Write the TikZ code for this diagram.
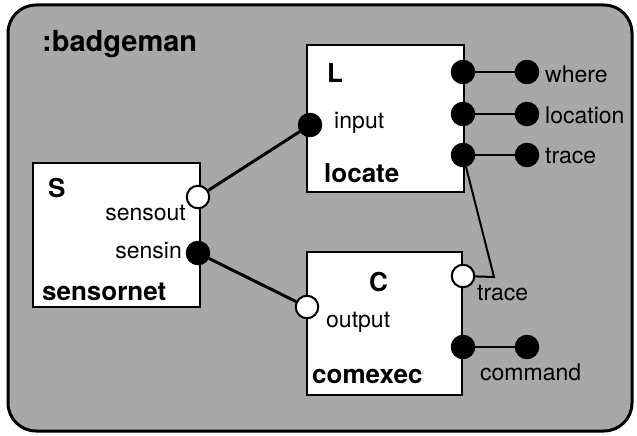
\documentclass[tikz,border=0pt]{standalone}
\usepackage{fontspec}
\setmainfont{TeX Gyre Heros}
\begin{document}
\begin{tikzpicture}[x=1pt,y=-1pt,
  comp/.style={draw=black,fill=white,line width=2.2pt},
  port/.style={circle,draw=black,line width=2pt,minimum size=22.5pt,inner sep=0pt},
  inport/.style={port,fill=black},
  outport/.style={port,fill=white},
  lbl/.style={inner sep=0pt,font=\fontsize{23}{26}\selectfont},
  blbl/.style={inner sep=0pt,font=\fontsize{26}{30}\selectfont\bfseries},
  thick link/.style={line width=3pt},
  thin link/.style={line width=2pt}]
\definecolor{bg}{gray}{0.66}
\useasboundingbox (0,0) rectangle (637,436);
% outer component
\draw[line width=3pt,fill=bg,rounded corners=28pt] (8,5) rectangle (632,431);
\node[anchor=base west,inner sep=0pt,font=\fontsize{29}{32}\selectfont\bfseries] (title) at (42,52) {:badgeman};
% boxes
\draw[comp] (33,163) rectangle (200,307);
\draw[comp] (307,45) rectangle (464,192);
\draw[comp] (307,252) rectangle (462,395);
% box texts
\node[blbl,anchor=base west] (Stxt) at (48,197) {S};
\node[lbl,anchor=base east] (sensoutlbl) at (186,220) {sensout};
\node[lbl,anchor=base east] (sensinlbl) at (182,258) {sensin};
\node[blbl,anchor=base west] (sensornet) at (42,300) {sensornet};
\node[blbl,anchor=base west] (Ltxt) at (327,82) {L};
\node[lbl,anchor=base west] (inputlbl) at (334,128) {input};
\node[blbl,anchor=base west] (locate) at (324,182) {locate};
\node[blbl,anchor=base west] (Ctxt) at (369,291) {C};
\node[lbl,anchor=base west] (outputlbl) at (326,327) {output};
\node[blbl,anchor=base west] (comexec) at (312,383) {comexec};
% ports
\node[outport] (sensout) at (198,197) {};
\node[inport] (sensin) at (198,253) {};
\node[inport] (input) at (310,125) {};
\node[inport] (Lwhere) at (463,72) {};
\node[inport] (Lloc) at (463,114) {};
\node[inport] (Ltrace) at (463,155) {};
\node[inport] (where) at (527,72) {};
\node[inport] (loc) at (527,114) {};
\node[inport] (trace) at (527,155) {};
\node[outport] (output) at (307,307) {};
\node[outport] (Ctrace) at (463,276) {};
\node[inport] (Ccmd) at (463,347) {};
\node[inport] (cmd) at (527,347) {};
% external labels
\node[lbl,anchor=base west] (wherelbl) at (545,82) {where};
\node[lbl,anchor=base west] (loclbl) at (545,123) {location};
\node[lbl,anchor=base west] (tracelbl) at (545,163) {trace};
\node[lbl,anchor=base west] (Ctracelbl) at (477,300) {trace};
\node[lbl,anchor=base west] (cmdlbl) at (480,380) {command};
% connectors
\draw[thick link] (sensout) -- (input);
\draw[thick link] (sensin) -- (output);
\draw[thin link] (Lwhere) -- (where);
\draw[thin link] (Lloc) -- (loc);
\draw[thin link] (Ltrace) -- (trace);
\draw[thin link] (Ccmd) -- (cmd);
\coordinate (bend) at (494,277);
\draw[thin link,line join=miter] (Ltrace) -- (bend) -- (Ctrace);
\end{tikzpicture}
\end{document}
